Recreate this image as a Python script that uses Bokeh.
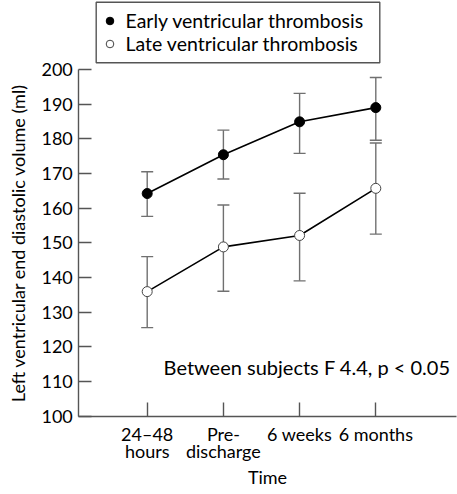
from bokeh.plotting import figure
from bokeh.models import (ColumnDataSource, Whisker, TeeHead, Legend, LegendItem,
                          Range1d, FixedTicker, Label, BoxAnnotation)
from bokeh.embed import file_html
from bokeh.resources import INLINE

# ---- data ----
x_pos = [1, 2, 3, 4]
x_labels = ["24–48\nhours", "Pre-\ndischarge", "6 weeks", "6 months"]

early_mean = [164.2, 175.4, 184.9, 189.0]
early_upper = [170.5, 182.5, 193.1, 197.7]
early_lower = [157.6, 168.4, 175.8, 179.6]

late_mean = [135.9, 148.8, 152.1, 165.7]
late_upper = [146.0, 160.9, 164.3, 178.8]
late_lower = [125.5, 136.0, 139.0, 152.5]

y_ticks = [100, 110, 120, 130, 140, 150, 160, 170, 180, 190, 200]

FONT = "Lato"
AX = "#555555"
BAR = "#707070"

# The plotting frame fills the whole canvas; the axes are pinned to x=0.1024 / y=100
# and bounded, so labels sit in the extra range around the data area.
p = figure(width=457, height=494, output_backend="svg", toolbar_location=None,
           x_range=Range1d(-0.9252, 5.0722), y_range=Range1d(77.345, 219.913),
           min_border=0, min_border_left=0, min_border_right=0,
           min_border_top=0, min_border_bottom=0)
p.grid.visible = False
p.outline_line_color = None
p.background_fill_color = "white"
p.border_fill_color = "white"

src_e = ColumnDataSource(dict(x=x_pos, y=early_mean, up=early_upper, lo=early_lower))
src_l = ColumnDataSource(dict(x=x_pos, y=late_mean, up=late_upper, lo=late_lower))

for src in (src_e, src_l):
    w = Whisker(source=src, base="x", upper="up", lower="lo", dimension="height",
                line_color=BAR, line_width=1.4,
                upper_head=TeeHead(size=12, line_color=BAR, line_width=1.4),
                lower_head=TeeHead(size=12, line_color=BAR, line_width=1.4))
    p.add_layout(w)

p.line("x", "y", source=src_e, line_color="black", line_width=1.6)
p.line("x", "y", source=src_l, line_color="black", line_width=1.6)
r_e = p.scatter("x", "y", source=src_e, size=10, fill_color="black",
                line_color="black", line_width=1)
r_l = p.scatter("x", "y", source=src_l, size=10, fill_color="white",
                line_color="#444444", line_width=1)

# axes
for ax in (p.xaxis[0], p.yaxis[0]):
    ax.axis_line_color = AX
    ax.axis_line_width = 1.4
    ax.major_tick_line_color = AX
    ax.major_tick_line_width = 1.4
    ax.major_tick_out = 0
    ax.minor_tick_line_color = None
    ax.major_label_text_font = FONT
    ax.major_label_text_font_size = "18px"
    ax.major_label_text_color = "black"
    ax.axis_label_text_font = FONT
    ax.axis_label_text_font_size = "18px"
    ax.axis_label_text_font_style = "normal"
    ax.axis_label_text_color = "black"

p.yaxis.fixed_location = 0.1024
p.yaxis.ticker = FixedTicker(ticks=y_ticks)
p.yaxis.bounds = (100, 200)
p.yaxis.major_tick_in = 13
p.yaxis.major_label_standoff = 6
p.yaxis.axis_label = "Left ventricular end diastolic volume (ml)"
p.yaxis.axis_label_standoff = 9

p.xaxis.fixed_location = 100
p.xaxis.ticker = FixedTicker(ticks=x_pos)
p.xaxis.bounds = (0.1024, 5.06)
p.xaxis.major_label_overrides = {k: v for k, v in zip(x_pos, x_labels)}
p.xaxis.major_label_text_line_height = 0.755
p.xaxis.major_tick_in = 14
p.xaxis.major_label_standoff = 7
p.xaxis.axis_label = "Time"
p.xaxis.axis_label_standoff = 1

# legend frame (drawn separately so it can be a little taller than the items)
legend_box = BoxAnnotation(left=0.3307, right=4.0525, top=219.42, bottom=201.93,
                           fill_color=None, line_color=AX, line_width=1.4,
                           line_alpha=1)
p.add_layout(legend_box)

legend = Legend(items=[LegendItem(label="Early ventricular thrombosis", renderers=[r_e]),
                       LegendItem(label="Late ventricular thrombosis", renderers=[r_l])],
                location=(99.5, 439), label_text_font=FONT, label_text_font_size="19.5px",
                label_text_color="black", padding=0, spacing=0, margin=0,
                label_height=21, glyph_height=21, glyph_width=19, label_standoff=7,
                label_width=240, border_line_color=None,
                background_fill_alpha=0)
p.add_layout(legend)

ann = Label(x=4.98, y=114.0, text="Between subjects F 4.4, p < 0.05",
            text_align="right", text_baseline="alphabetic", text_font=FONT,
            text_font_size="20px", text_color="black")
p.add_layout(ann)

open("out.html", "w").write(file_html(p, INLINE))
